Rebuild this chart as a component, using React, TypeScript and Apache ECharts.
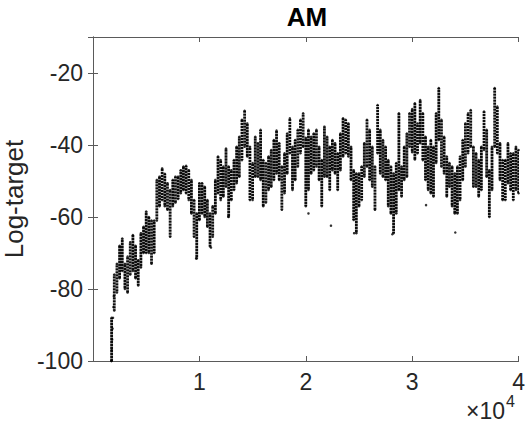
import React, { useEffect, useRef } from "react";
import * as echarts from "echarts";

// Iteration grid of the sampled columns (start, step)
const iterStart = 1750;
const iterStep = 250;

// Upper edge of the log-target cloud at each sampled iteration
const upper: number[] = [
  -88, -76, -73, -68, -66, -73, -71, -67, -65, -68, -72, -64.5, -62.7, -58.5, -60, -61, -61,
  -49.7, -48.8, -46.5, -48, -50.6, -52.5, -49.7, -48.8, -48.8, -47, -46, -45.8, -47, -49.7, -55.3, -59,
  -50.6, -50.6, -51.6, -55.3, -59, -57, -49.7, -43.2, -44.2, -46, -41, -46, -47, -44.2, -40.5, -37.7,
  -33, -30.5, -34, -40.5, -45, -37.7, -39.5, -35.8, -44.2, -45, -43.2, -41.4, -38.6, -36, -39.5, -46,
  -42.3, -36.8, -32.6, -40.5, -38.6, -35.8, -33, -31.2, -38, -35.8, -37.7, -36.8, -35.8, -40.5, -44.2,
  -34.9, -37.7, -40.5, -38.6, -39.5, -42.3, -36.8, -32.6, -33, -34, -40.5, -47, -47.9, -47.9, -46,
  -39.5, -33, -35.8, -40.5, -46, -28.9, -35.8, -38.6, -40.5, -44.2, -46, -47.9, -45, -31.2, -46, -40.5,
  -36.8, -31.2, -30, -28.4, -34, -27.5, -31.2, -37.7, -40.5, -38.6, -40.5, -31.2, -24.2, -33, -37.7,
  -43.2, -45, -46, -47.9, -46, -43.2, -38.6, -34, -31.2, -30.3, -40.5, -42.3, -44.2, -40.5, -30.7,
  -35.8, -47, -40.5, -24.2, -29.3, -39.5, -44.2, -44.2, -39.5, -42.3, -42.3, -40.5, -41.4,
];

// Lower edge of the log-target cloud at each sampled iteration
const lower: number[] = [
  -100, -86, -81, -77, -75, -80, -81, -76, -75, -77, -79, -74, -70, -70, -70, -73, -70,
  -61, -57, -55.3, -57, -58, -65.5, -57, -56, -55, -53.4, -52.5, -53.4, -55.3, -59, -65.5, -71.5,
  -60.8, -59, -60, -62.7, -68.2, -65.5, -59, -53.4, -55.3, -54.3, -51.6, -60, -55.3, -52.5, -50.6, -48.8,
  -44.2, -40.5, -43.2, -55.3, -55.3, -48.8, -48.8, -49.7, -57, -56, -52.5, -51.6, -49.7, -47.9, -49.7, -58,
  -53.4, -47.9, -42.3, -52.5, -49.7, -46, -42.3, -40.5, -57, -52.5, -47.9, -47, -46, -49.7, -57,
  -48.8, -48.8, -52.5, -47, -47.9, -52.5, -47, -43.2, -42.3, -43.2, -49.7, -60.8, -64.5, -57, -55.3,
  -48.8, -46, -49.7, -51.6, -58, -42.3, -47.9, -48.8, -49.7, -57, -59, -64.5, -59, -52.5, -54.3, -49.7,
  -48.8, -40.5, -42, -44, -42.3, -39.5, -44.2, -49.7, -52.5, -53.4, -54.3, -45, -38.6, -46, -47.9,
  -54.3, -51.6, -57, -59, -59, -55.3, -49.7, -46, -42.3, -40.5, -51.6, -51.6, -54.3, -52.5, -41.4,
  -48.8, -60, -52.5, -40.5, -42.3, -49.7, -55.3, -55.3, -50.6, -52.5, -55.3, -52.5, -53.4,
];

// Isolated points below the cloud: [iteration, log-target]
const outliers: [number, number][] = [
  [9690, -71.5], [11090, -68.5], [12710, -59.9], [20250, -59], [22365, -62.4],
  [24540, -64.5], [28130, -64.8], [31300, -56.7], [34050, -64.3],
];

// Early steep climb from the start of the run: [iteration, log-target]
const climb: [number, number][] = [
  [1720, -100], [1760, -97], [1800, -94], [1840, -91], [1880, -88], [1920, -85], [1960, -82],
];

const title = "AM";
const yLabel = "Log-target";
const xTicks = [0, 10000, 20000, 30000, 40000];
const yTicks = [-100, -80, -60, -40, -20];

const FONT = "'Liberation Sans', Arial, Helvetica, sans-serif";
const AXIS_COLOR = "#5a5a5a";
const TEXT_COLOR = "#262626";

export default function App() {
  const ref = useRef<HTMLDivElement>(null);

  useEffect(() => {
    if (!ref.current) return;
    const chart = echarts.init(ref.current, null, { renderer: "svg" });

    const bandData = upper.map((hi, i) => [iterStart + i * iterStep, lower[i], hi]);
    const endDots: [number, number][] = [];
    bandData.forEach((d) => {
      endDots.push([d[0], d[1]]);
      endDots.push([d[0], d[2]]);
    });

    const xMin = xTicks[0];
    const xMax = xTicks[xTicks.length - 1];
    const xInt = xTicks[1] - xTicks[0];
    const yMin = yTicks[0];
    const yMax = -10;
    const yInt = yTicks[1] - yTicks[0];

    const commonAxisLine = { show: true, lineStyle: { color: AXIS_COLOR, width: 1 } };
    const tick = { show: true, inside: true, length: 5, lineStyle: { color: AXIS_COLOR } };

    chart.setOption({
      animation: false,
      backgroundColor: "#ffffff",
      grid: { left: 93, right: 7, top: 37, bottom: 70, containLabel: false },
      xAxis: [
        {
          type: "value",
          position: "bottom",
          min: xMin,
          max: xMax,
          interval: xInt,
          axisLine: commonAxisLine,
          axisTick: tick,
          splitLine: { show: false },
          axisLabel: {
            margin: 9,
            fontSize: 23,
            fontFamily: FONT,
            color: TEXT_COLOR,
            formatter: (v: number) => (v === 0 ? "" : String(v / 10000)),
          },
        },
        {
          type: "value",
          position: "top",
          min: xMin,
          max: xMax,
          interval: xInt,
          axisLine: commonAxisLine,
          axisTick: tick,
          splitLine: { show: false },
          axisLabel: { show: false },
        },
      ],
      yAxis: [
        {
          type: "value",
          position: "left",
          min: yMin,
          max: yMax,
          interval: yInt,
          axisLine: commonAxisLine,
          axisTick: tick,
          splitLine: { show: false },
          axisLabel: {
            margin: 10,
            fontSize: 23,
            fontFamily: FONT,
            color: TEXT_COLOR,
            showMaxLabel: false,
            formatter: (v: number) => (v === yMax ? "" : String(v)),
          },
        },
        {
          type: "value",
          position: "right",
          min: yMin,
          max: yMax,
          interval: yInt,
          axisLine: commonAxisLine,
          axisTick: tick,
          splitLine: { show: false },
          axisLabel: { show: false },
        },
      ],
      graphic: [
        {
          type: "text",
          x: 307,
          y: 4,
          style: {
            text: title,
            font: `bold 26px ${FONT}`,
            fill: "#000",
            textAlign: "center",
            textVerticalAlign: "top",
          },
        },
        {
          type: "text",
          x: 14,
          y: 199,
          rotation: Math.PI / 2,
          style: {
            text: yLabel,
            font: `26px ${FONT}`,
            fill: TEXT_COLOR,
            textAlign: "center",
            textVerticalAlign: "middle",
          },
        },
        {
          type: "text",
          x: 505,
          y: 422,
          style: {
            text: "×10",
            font: `23px ${FONT}`,
            fill: TEXT_COLOR,
            textAlign: "right",
            textVerticalAlign: "bottom",
          },
        },
        {
          type: "text",
          x: 506,
          y: 409,
          style: {
            text: "4",
            font: `16px ${FONT}`,
            fill: TEXT_COLOR,
            textAlign: "left",
            textVerticalAlign: "bottom",
          },
        },
      ],
      series: [
        {
          type: "custom",
          xAxisIndex: 0,
          yAxisIndex: 0,
          clip: true,
          encode: { x: 0, y: [1, 2] },
          data: bandData,
          renderItem: (params: any, api: any) => {
            const x = api.value(0);
            const p1 = api.coord([x, api.value(1)]);
            const p2 = api.coord([x, api.value(2)]);
            return {
              type: "line",
              shape: { x1: p1[0], y1: p1[1], x2: p2[0], y2: p2[1] },
              style: {
                stroke: "#000",
                lineWidth: 2.8,
                lineDash: [2.4, 0.6],
                lineDashOffset: (params.dataIndex % 3) * 1.1,
                opacity: 0.95,
              },
            };
          },
        },
        {
          type: "scatter",
          xAxisIndex: 0,
          yAxisIndex: 0,
          symbolSize: 2.5,
          itemStyle: { color: "#000" },
          data: endDots,
        },
        {
          type: "scatter",
          xAxisIndex: 0,
          yAxisIndex: 0,
          symbolSize: 2.5,
          itemStyle: { color: "#000" },
          data: climb,
        },
        {
          type: "scatter",
          xAxisIndex: 0,
          yAxisIndex: 0,
          symbolSize: 2.5,
          itemStyle: { color: "#000" },
          data: outliers,
        },
      ],
    });

    return () => chart.dispose();
  }, []);

  return <div ref={ref} style={{ width: 528, height: 431, position: "absolute", left: 0, top: 0 }} />;
}
